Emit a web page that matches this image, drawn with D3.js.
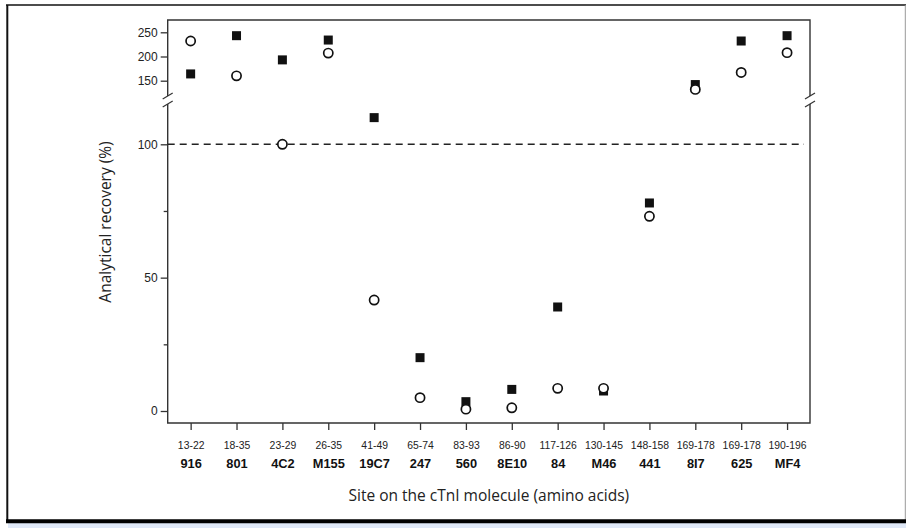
<!DOCTYPE html>
<html>
<head>
<meta charset="utf-8">
<script src="https://cdn.jsdelivr.net/npm/d3@7"></script>
<style>
  body { margin: 0; background: #fff; }
  svg { display: block; font-family: "Open Sans", sans-serif; }
</style>
</head>
<body>
<div id="chart"></div>
<script>
// Epitope sites and antibody names
const sites = ["13-22", "18-35", "23-29", "26-35", "41-49", "65-74", "83-93", "86-90",
               "117-126", "130-145", "148-158", "169-178", "169-178", "190-196"];
const antibodies = ["916", "801", "4C2", "M155", "19C7", "247", "560", "8E10",
                    "84", "M46", "441", "8I7", "625", "MF4"];
// analytical recovery (%) values
const squares = [164, 243, 193, 234, 110, 20, 3.5, 8.1, 39, 7.5, 78, 142, 232, 243];
const circles = [232, 160, 100, 207, 41.6, 5, 0.7, 1.2, 8.5, 8.5, 73, 132, 167, 208];
const lowTicks = [0, 50, 100];
const lowMinor = [25, 75];
const highTicks = [150, 200, 250];

const width = 906;
const height = 528;
const plotLeft = 167.7, plotRight = 810, plotTop = 20, plotBottom = 423;
const breakTop = 96, breakBottom = 104;

const svg = d3.select("#chart").append("svg")
    .attr("width", width)
    .attr("height", height);

// outer frame
svg.append("rect").attr("x", 8).attr("y", 523).attr("width", width - 8).attr("height", 5).attr("fill", "#dfe8f7");
svg.append("line").attr("x1", 6).attr("x2", width).attr("y1", 5).attr("y2", 5).attr("stroke", "#111").attr("stroke-width", 1.6);
svg.append("line").attr("x1", 7.3).attr("x2", 7.3).attr("y1", 5).attr("y2", 523).attr("stroke", "#111").attr("stroke-width", 2);
svg.append("line").attr("x1", 905.3).attr("x2", 905.3).attr("y1", 5).attr("y2", 520).attr("stroke", "#999").attr("stroke-width", 1);
svg.append("line").attr("x1", 6).attr("x2", width).attr("y1", 521.3).attr("y2", 521.3).attr("stroke", "#000").attr("stroke-width", 4);

const x = d3.scalePoint()
    .domain(d3.range(sites.length))
    .range([plotLeft, plotRight])
    .padding(0.5);

const yLow = d3.scaleLinear().domain([0, 100]).range([411, 144.3]);
const yHigh = d3.scaleLinear().domain([150, 250]).range([80.7, 32.3]);
const y = v => v > 120 ? yHigh(v) : yLow(v);

const axisColor = "#333";

// axis frame with breaks
const frame = svg.append("g").attr("stroke", axisColor).attr("stroke-width", 1.4).attr("fill", "none");
frame.append("path").attr("d", `M${plotLeft},${breakTop}V${plotTop}H${plotRight}V${breakTop}`);
frame.append("path").attr("d", `M${plotLeft},${breakBottom}V${plotBottom}H${plotRight}V${breakBottom}`);
[plotLeft, plotRight].forEach(ax => {
  [breakTop, breakBottom].forEach(by => {
    frame.append("line")
        .attr("x1", ax - 5).attr("y1", by + 3)
        .attr("x2", ax + 5).attr("y2", by - 3)
        .attr("stroke-width", 1.2);
  });
});

// y axes
const styleAxis = g => {
  g.select(".domain").remove();
  g.selectAll(".tick line").attr("stroke", axisColor).attr("stroke-width", 1.3);
  g.selectAll(".tick text").attr("fill", "#222").attr("font-size", 12);
};

svg.append("g")
    .attr("transform", `translate(${plotLeft},0)`)
    .call(d3.axisLeft(yLow).tickValues(lowTicks).tickSize(7).tickPadding(3))
    .call(styleAxis);

svg.append("g")
    .attr("transform", `translate(${plotLeft},0)`)
    .call(d3.axisLeft(yLow).tickValues(lowMinor).tickSize(4).tickFormat(""))
    .call(styleAxis);

svg.append("g")
    .attr("transform", `translate(${plotLeft},0)`)
    .call(d3.axisLeft(yHigh).tickValues(highTicks).tickSize(7).tickPadding(3))
    .call(styleAxis);

// x axis
const xAxis = svg.append("g")
    .attr("transform", `translate(0,${plotBottom})`)
    .call(d3.axisBottom(x).tickSize(7).tickFormat(""))
    .call(styleAxis);

xAxis.selectAll(".tick").append("text")
    .attr("y", 26)
    .attr("fill", "#222")
    .attr("font-size", 10.4)
    .text(i => sites[i]);

xAxis.selectAll(".tick").append("text")
    .attr("y", 45)
    .attr("fill", "#111")
    .attr("font-size", 12.8)
    .attr("font-weight", "bold")
    .text(i => antibodies[i]);

// dashed 100% line
svg.append("line")
    .attr("x1", plotLeft).attr("x2", plotRight - 6)
    .attr("y1", yLow(100)).attr("y2", yLow(100))
    .attr("stroke", "#222")
    .attr("stroke-width", 1.4)
    .attr("stroke-dasharray", "7,5");

// axis titles
svg.append("text")
    .attr("transform", `translate(111,222) rotate(-90)`)
    .attr("text-anchor", "middle")
    .attr("font-size", 15.5)
    .attr("fill", "#222")
    .text("Analytical recovery (%)");

svg.append("text")
    .attr("x", (plotLeft + plotRight) / 2)
    .attr("y", 501)
    .attr("text-anchor", "middle")
    .attr("font-size", 15.5)
    .attr("fill", "#222")
    .text("Site on the cTnI molecule (amino acids)");

// markers
svg.append("g")
    .selectAll("rect")
    .data(squares)
    .join("rect")
    .attr("x", (d, i) => x(i) - 4.5)
    .attr("y", d => y(d) - 4.5)
    .attr("width", 9)
    .attr("height", 9)
    .attr("fill", "#111");

svg.append("g")
    .selectAll("circle")
    .data(circles)
    .join("circle")
    .attr("cx", (d, i) => x(i))
    .attr("cy", d => y(d))
    .attr("r", 4.6)
    .attr("fill", "#fff")
    .attr("stroke", "#111")
    .attr("stroke-width", 1.7);
</script>
</body>
</html>
